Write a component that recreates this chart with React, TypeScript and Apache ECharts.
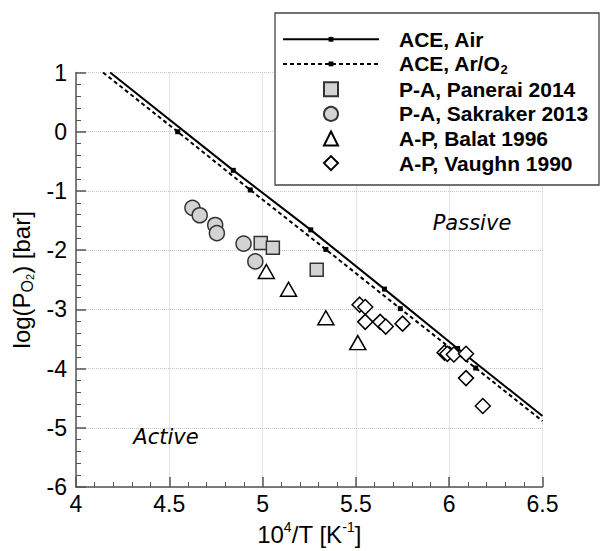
import React, { useEffect, useRef } from "react";
import * as echarts from "echarts";

// ACE curves (x = 10^4/T, y = log(PO2))
const airX = [4.183, 4.843, 5.258, 5.653, 6.045, 6.5];
const airY = [1.0, -0.652, -1.657, -2.657, -3.66, -4.8];
const airMarker = [false, true, true, true, true, false];

const arX = [4.145, 4.545, 4.934, 5.339, 5.738, 6.142, 6.5];
const arY = [1.0, 0.0, -0.983, -1.987, -2.987, -3.99, -4.885];
const arMarker = [false, true, true, true, true, true, false];

// Experimental points
const paneraiX = [4.99, 5.055, 5.29];
const paneraiY = [-1.877, -1.96, -2.33];

const sakrakerX = [4.624, 4.663, 4.746, 4.755, 4.898, 4.961];
const sakrakerY = [-1.285, -1.41, -1.575, -1.713, -1.89, -2.19];

const balatX = [5.02, 5.139, 5.339, 5.51];
const balatY = [-2.36, -2.66, -3.14, -3.56];

const vaughnX = [5.52, 5.55, 5.55, 5.63, 5.66, 5.75, 5.975, 5.99, 6.025, 6.09, 6.09, 6.18];
const vaughnY = [-2.92, -2.96, -3.21, -3.21, -3.29, -3.24, -3.73, -3.75, -3.76, -3.75, -4.16, -4.63];

const seriesNames = [
  "ACE, Air",
  "ACE, Ar/O2",
  "P-A, Panerai 2014",
  "P-A, Sakraker 2013",
  "A-P, Balat 1996",
  "A-P, Vaughn 1990",
];

const xTicks = { min: 4, max: 6.5, interval: 0.5 };
const yTicks = { min: -6, max: 1, interval: 1 };

const FONT = '"Liberation Sans", Arial, Helvetica, sans-serif';

function zip(xs: number[], ys: number[]) {
  return xs.map((x, i) => [x, ys[i]]);
}

function lineData(xs: number[], ys: number[], marks: boolean[]) {
  return xs.map((x, i) =>
    marks[i] ? { value: [x, ys[i]] } : { value: [x, ys[i]], symbol: "none" }
  );
}

export default function App() {
  const ref = useRef<HTMLDivElement>(null);

  useEffect(() => {
    if (!ref.current) return;
    const chart = echarts.init(ref.current, undefined, { renderer: "svg" });

    const LH = 24.6;
    const makeLegendText = (padLeft: number) => ({
      fontFamily: FONT,
      fontSize: 21,
      fontWeight: "bold" as const,
      color: "#000",
      lineHeight: LH,
      padding: [0, 0, 0, padLeft],
      rich: {
        b: {
          fontFamily: FONT,
          fontSize: 21,
          fontWeight: "bold" as const,
          color: "#000",
          lineHeight: LH,
        },
        s: {
          fontFamily: FONT,
          fontSize: 13,
          fontWeight: "bold" as const,
          color: "#000",
          lineHeight: 8,
          verticalAlign: "bottom" as const,
        },
      },
    });
    const legendFormatter = (name: string) =>
      name === "ACE, Ar/O2" ? "{b|ACE, Ar/O}{s|2}" : "{b|" + name + "}";

    const axisLineStyle = { color: "#555", width: 1.5 };

    const option: any = {
      animation: false,
      backgroundColor: "#fff",
      grid: { left: 76, right: 58.5, top: 72.5, bottom: 53, containLabel: false },
      graphic: [
        {
          type: "rect",
          z: 3,
          shape: { x: 275, y: 13, width: 324, height: 172 },
          style: { fill: "#fff", stroke: "#444", lineWidth: 1.3 },
        },
        {
          type: "text",
          z: 5,
          x: 472,
          y: 223,
          style: {
            text: "Passive",
            font: 'italic 21px "DejaVu Sans", sans-serif',
            fill: "#000",
            align: "center",
            verticalAlign: "middle",
            textAlign: "center",
            textVerticalAlign: "middle",
          },
        },
        {
          type: "text",
          z: 5,
          x: 166,
          y: 437,
          style: {
            text: "Active",
            font: 'italic 21px "DejaVu Sans", sans-serif',
            fill: "#000",
            align: "center",
            verticalAlign: "middle",
            textAlign: "center",
            textVerticalAlign: "middle",
          },
        },
      ],
      legend: [
        {
          data: seriesNames.slice(0, 2),
          orient: "vertical",
          left: 282,
          top: 27,
          padding: 0,
          itemGap: 0,
          itemWidth: 96,
          itemHeight: 6,
          selectedMode: false,
          textStyle: makeLegendText(15),
          formatter: legendFormatter,
          z: 6,
        },
        {
          data: seriesNames.slice(2),
          orient: "vertical",
          left: 323,
          top: 77,
          padding: 0,
          itemGap: 0,
          itemWidth: 14,
          itemHeight: 14,
          selectedMode: false,
          textStyle: makeLegendText(56),
          formatter: legendFormatter,
          z: 6,
        },
      ],
      xAxis: {
        type: "value",
        min: xTicks.min,
        max: xTicks.max,
        interval: xTicks.interval,
        name: "{a|10}{sup|4}{a|/T [K}{sup|-1}{a|]}",
        nameLocation: "middle",
        nameGap: 27,
        nameTextStyle: {
          rich: {
            a: { fontFamily: FONT, fontSize: 24, color: "#000", lineHeight: 28 },
            sup: {
              fontFamily: FONT,
              fontSize: 14,
              color: "#000",
              lineHeight: 12,
              verticalAlign: "top",
            },
          },
        },
        axisLine: { show: true, onZero: false, lineStyle: axisLineStyle },
        axisTick: { show: true, inside: true, length: 10, lineStyle: axisLineStyle },
        minorTick: { show: true, splitNumber: 5, length: 5, lineStyle: { color: "#555", width: 1 } },
        splitLine: { show: true, lineStyle: { type: "dotted", color: "#c8c8c8", width: 1 } },
        axisLabel: { fontFamily: FONT, fontSize: 23, color: "#000", margin: 5 },
      },
      yAxis: {
        type: "value",
        min: yTicks.min,
        max: yTicks.max,
        interval: yTicks.interval,
        name: "{a|log(P}{sub|O}{sub2|2}{a|) [bar]}",
        nameLocation: "middle",
        nameGap: 38,
        nameRotate: 90,
        nameTextStyle: {
          rich: {
            a: { fontFamily: FONT, fontSize: 24, color: "#000", lineHeight: 28 },
            sub: {
              fontFamily: FONT,
              fontSize: 16,
              color: "#000",
              lineHeight: 12,
              verticalAlign: "bottom",
            },
            sub2: {
              fontFamily: FONT,
              fontSize: 11,
              color: "#000",
              lineHeight: 4,
              verticalAlign: "bottom",
            },
          },
        },
        axisLine: { show: true, onZero: false, lineStyle: axisLineStyle },
        axisTick: { show: true, inside: true, length: 10, lineStyle: axisLineStyle },
        minorTick: { show: true, splitNumber: 5, length: 5, lineStyle: { color: "#555", width: 1 } },
        splitLine: { show: true, lineStyle: { type: "dotted", color: "#c8c8c8", width: 1 } },
        axisLabel: { fontFamily: FONT, fontSize: 23, color: "#000", margin: 9 },
      },
      series: [
        {
          name: seriesNames[0],
          type: "line",
          data: lineData(airX, airY, airMarker),
          symbol: "rect",
          symbolSize: 5,
          showAllSymbol: true,
          lineStyle: { color: "#000", width: 2, type: "solid" },
          itemStyle: { color: "#000" },
          z: 2,
        },
        {
          name: seriesNames[1],
          type: "line",
          data: lineData(arX, arY, arMarker),
          symbol: "rect",
          symbolSize: 5,
          showAllSymbol: true,
          lineStyle: { color: "#000", width: 2, type: [4, 3] },
          itemStyle: { color: "#000" },
          z: 2,
        },
        {
          name: seriesNames[2],
          type: "scatter",
          data: zip(paneraiX, paneraiY),
          symbol: "rect",
          symbolSize: 13,
          itemStyle: { color: "#d3d3d3", borderColor: "#333", borderWidth: 1.5, opacity: 1 },
          z: 3,
        },
        {
          name: seriesNames[3],
          type: "scatter",
          data: zip(sakrakerX, sakrakerY),
          symbol: "circle",
          symbolSize: 15,
          itemStyle: { color: "#d3d3d3", borderColor: "#333", borderWidth: 1.5, opacity: 1 },
          z: 3,
        },
        {
          name: seriesNames[4],
          type: "scatter",
          data: zip(balatX, balatY),
          symbol: "triangle",
          symbolSize: [16, 14],
          itemStyle: { color: "#fff", borderColor: "#000", borderWidth: 1.5, opacity: 1 },
          z: 3,
        },
        {
          name: seriesNames[5],
          type: "scatter",
          data: zip(vaughnX, vaughnY),
          symbol: "diamond",
          symbolSize: 15,
          itemStyle: { color: "#fff", borderColor: "#000", borderWidth: 1.5, opacity: 1 },
          z: 3,
        },
      ],
    };

    chart.setOption(option);
    return () => {
      chart.dispose();
    };
  }, []);

  return (
    <div
      ref={ref}
      style={{ position: "fixed", left: 0, top: 0, width: 601, height: 551, background: "#fff" }}
    />
  );
}
